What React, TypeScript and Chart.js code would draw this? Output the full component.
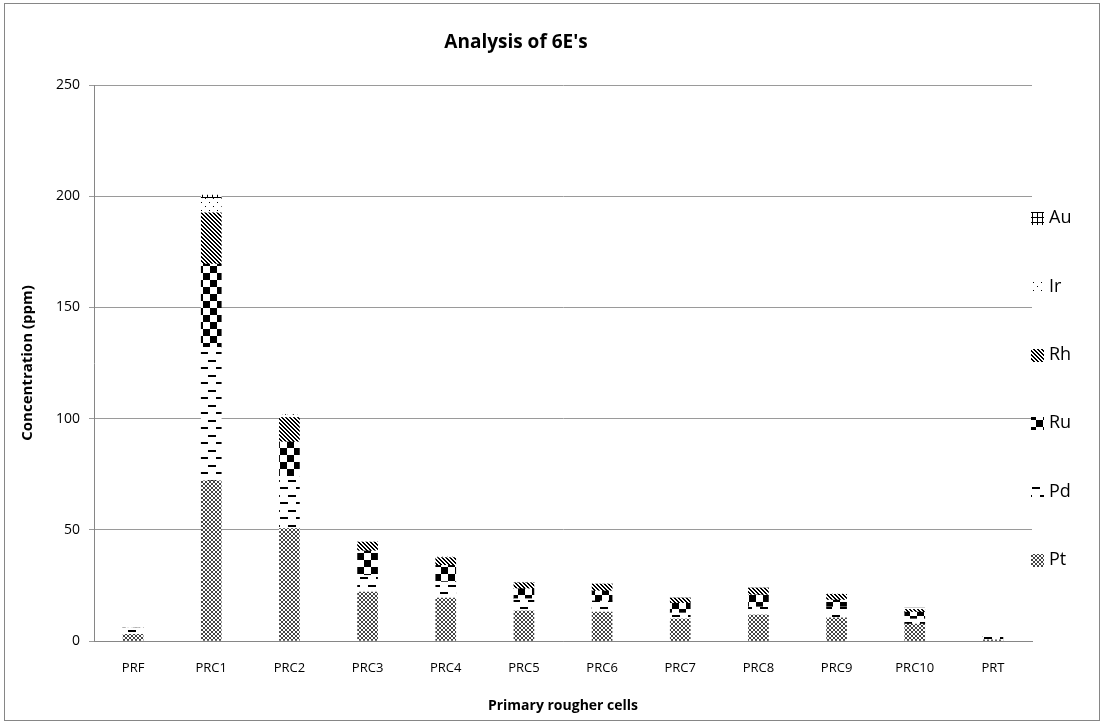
import React, { useEffect, useRef } from "react";
import { Chart, registerables } from "chart.js";

Chart.register(...registerables);

const categories = ["PRF", "PRC1", "PRC2", "PRC3", "PRC4", "PRC5", "PRC6", "PRC7", "PRC8", "PRC9", "PRC10", "PRT"];
const seriesNames = ["Pt", "Pd", "Ru", "Rh", "Ir", "Au"];
const ptValues = [3, 72, 50.5, 22, 19.3, 13.5, 13, 9.9, 11.7, 10.4, 7.6, 0.5];
const pdValues = [3, 60, 23.5, 7.5, 7.2, 5.5, 5, 2.7, 3.6, 4.9, 2.3, 1.6];
const ruValues = [0, 37.5, 15.5, 11, 7.5, 4.5, 4.5, 4.4, 5.4, 3.1, 3.1, 0];
const rhValues = [0, 23, 11, 4, 3.5, 2.7, 3.1, 2.3, 3.1, 2.6, 1.2, 0];
const irValues = [0, 6.5, 1.3, 0.3, 0.3, 0.2, 0.2, 0.2, 0.2, 0.3, 0.6, 0];
const auValues = [0, 1.5, 0, 0, 0, 0, 0, 0, 0, 0, 0, 0];
const yTicks = [0, 50, 100, 150, 200, 250];

const FONT = "'Open Sans', 'Liberation Sans', sans-serif";

function makePattern(w: number, h: number, draw: (c: CanvasRenderingContext2D) => void): CanvasPattern {
  const c = document.createElement("canvas");
  c.width = w;
  c.height = h;
  const x = c.getContext("2d")!;
  x.fillStyle = "#fff";
  x.fillRect(0, 0, w, h);
  x.fillStyle = "#000";
  draw(x);
  return x.createPattern(c, "repeat")!;
}

function buildPatterns(): CanvasPattern[] {
  const pt = makePattern(4, 4, (x) => {
    x.fillStyle = "#444";
    for (let i = 0; i < 4; i++) {
      x.fillRect(i, i, 1, 1);
      x.fillRect(3 - i, i, 1, 1);
    }
  });
  const pd = makePattern(16, 15, (x) => {
    x.fillRect(0, 0, 8, 2);
    x.fillRect(8, 7, 8, 2);
  });
  const ru = makePattern(14, 14, (x) => {
    x.fillRect(0, 0, 7, 7);
    x.fillRect(7, 7, 7, 7);
  });
  const rh = makePattern(4, 4, (x) => {
    for (let i = 0; i < 4; i++) {
      x.fillRect(i, i, 1, 1);
      x.fillRect((i + 1) % 4, i, 1, 1);
    }
  });
  const ir = makePattern(8, 8, (x) => {
    x.fillRect(1, 2, 1, 1);
    x.fillRect(5, 6, 1, 1);
  });
  const au = makePattern(5, 5, (x) => {
    x.fillRect(0, 2, 5, 1);
    x.fillRect(2, 0, 1, 5);
  });
  return [pt, pd, ru, rh, ir, au];
}

export default function App() {
  const ref = useRef<HTMLCanvasElement | null>(null);

  useEffect(() => {
    document.body.style.margin = "0";
    const canvas = ref.current!;
    const patterns = buildPatterns();
    const values = [ptValues, pdValues, ruValues, rhValues, irValues, auValues];

    const framePlugin = {
      id: "frame",
      beforeDraw(chart: any) {
        const ctx = chart.ctx;
        ctx.save();
        ctx.fillStyle = "#fff";
        ctx.fillRect(0, 0, chart.width, chart.height);
        ctx.strokeStyle = "#868686";
        ctx.lineWidth = 1;
        ctx.strokeRect(4.5, 3.5, 1095, 717);
        ctx.restore();
      },
    };

    const legendPlugin = {
      id: "customLegend",
      afterDraw(chart: any) {
        const ctx = chart.ctx;
        ctx.save();
        const ds = chart.data.datasets;
        for (let k = 0; k < ds.length; k++) {
          const d = ds[ds.length - 1 - k];
          const y = 218 + k * 68.4;
          ctx.fillStyle = d.backgroundColor;
          ctx.fillRect(1031, Math.round(y - 6), 13, 13);
          ctx.fillStyle = "#000";
          ctx.font = `18px ${FONT}`;
          ctx.textBaseline = "middle";
          ctx.textAlign = "left";
          ctx.fillText(d.label, 1049, y);
        }
        ctx.restore();
      },
    };

    const chart = new Chart(canvas, {
      type: "bar",
      data: {
        labels: categories,
        datasets: seriesNames.map((name, i) => ({
          label: name,
          data: values[i],
          backgroundColor: patterns[i] as any,
          borderWidth: 0,
          barThickness: 20,
        })),
      },
      options: {
        responsive: false,
        animation: false,
        devicePixelRatio: 1,
        layout: { padding: { left: 0, right: 71, top: 0, bottom: 0 } },
        plugins: {
          legend: { display: false },
          tooltip: { enabled: false },
          title: {
            display: true,
            text: "Analysis of 6E's",
            color: "#000",
            font: { size: 19, weight: "bold", family: FONT },
            padding: { top: 31, bottom: 31.2 },
          },
        },
        scales: {
          x: {
            stacked: true,
            grid: { display: false, drawTicks: false },
            border: { color: "#868686" },
            ticks: { padding: 19, color: "#000", font: { size: 13, family: FONT } },
            title: {
              display: true,
              text: "Primary rougher cells",
              color: "#000",
              font: { size: 14, weight: "bold", family: FONT },
              padding: { top: 0, bottom: 9.6 },
            },
            afterFit(s: any) {
              s.height = 83;
            },
          },
          y: {
            stacked: true,
            min: 0,
            max: 250,
            afterBuildTicks(s: any) {
              s.ticks = yTicks.map((v) => ({ value: v }));
            },
            grid: { color: "#9a9a9a", tickLength: 5 },
            border: { color: "#868686" },
            ticks: { padding: 9, color: "#000", font: { size: 14, family: FONT } },
            title: {
              display: true,
              text: "Concentration (ppm)",
              color: "#000",
              font: { size: 15, weight: "bold", family: FONT },
              padding: { top: 19, bottom: 0 },
            },
            afterFit(s: any) {
              s.width = 94;
            },
          },
        },
      } as any,
      plugins: [framePlugin, legendPlugin],
    });
    return () => chart.destroy();
  }, []);

  return <canvas ref={ref} width={1103} height={724} style={{ display: "block" }} />;
}
